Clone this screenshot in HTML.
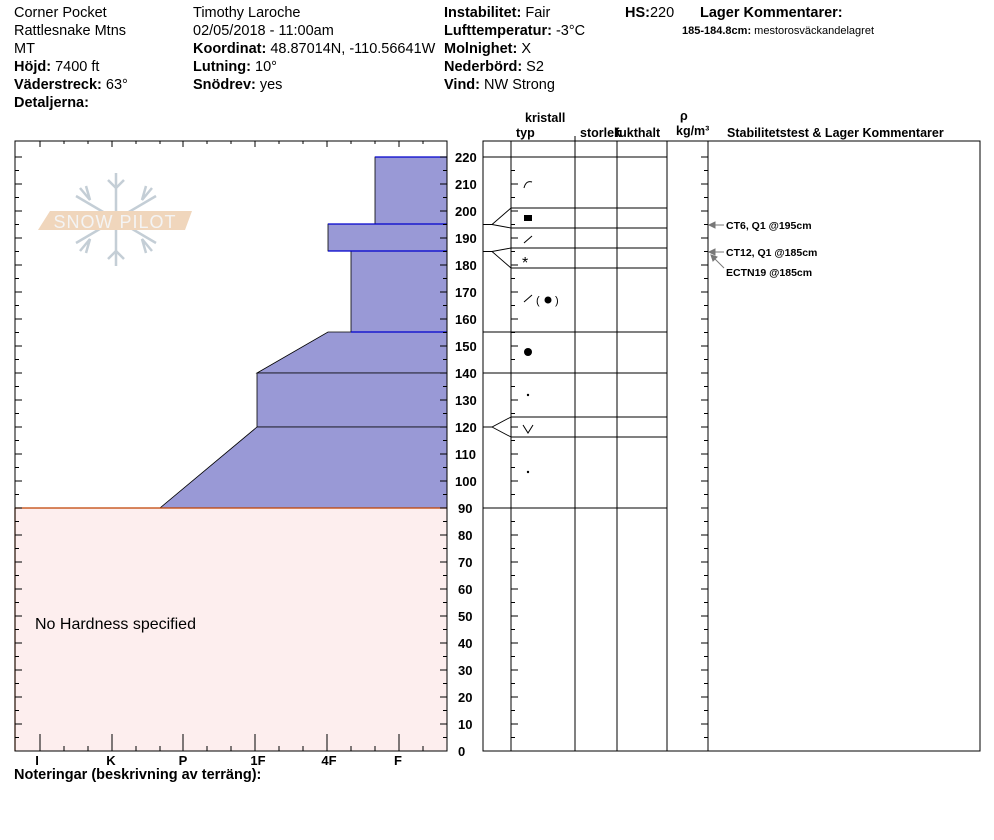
<!DOCTYPE html>
<html><head><meta charset="utf-8"><style>
html,body{margin:0;padding:0;background:#fff;}
svg{display:block;font-family:"Liberation Sans",Arial,sans-serif;}
.b{font-weight:bold}
</style></head><body>
<svg width="994" height="840" viewBox="0 0 994 840" xmlns="http://www.w3.org/2000/svg">
<defs>
<path id="tk" stroke="#000" stroke-width="1" d="M0,737.5h4M0,724h7M0,710.5h4M0,697h7M0,683.5h4M0,670h7M0,656.5h4M0,643h7M0,629.5h4M0,616h7M0,602.5h4M0,589h7M0,575.5h4M0,562h7M0,548.5h4M0,535h7M0,521.5h4M0,508h7M0,494.5h4M0,481h7M0,467.5h4M0,454h7M0,440.5h4M0,427h7M0,413.5h4M0,400h7M0,386.5h4M0,373h7M0,359.5h4M0,346h7M0,332.5h4M0,319h7M0,305.5h4M0,292h7M0,278.5h4M0,265h7M0,251.5h4M0,238h7M0,224.5h4M0,211h7M0,197.5h4M0,184h7M0,170.5h4M0,157h7"/>
</defs>
<g font-size="14.5" fill="#000">
<text x="14" y="17">Corner Pocket</text>
<text x="14" y="35">Rattlesnake Mtns</text>
<text x="14" y="53">MT</text>
<text x="14" y="71"><tspan class="b">Höjd:</tspan> 7400 ft</text>
<text x="14" y="89"><tspan class="b">Väderstreck:</tspan> 63°</text>
<text x="14" y="107" class="b">Detaljerna:</text>
<text x="193" y="17">Timothy  Laroche</text>
<text x="193" y="35">02/05/2018 - 11:00am</text>
<text x="193" y="53"><tspan class="b">Koordinat:</tspan> 48.87014N, -110.56641W</text>
<text x="193" y="71"><tspan class="b">Lutning:</tspan> 10°</text>
<text x="193" y="89"><tspan class="b">Snödrev:</tspan> yes</text>
<text x="444" y="17"><tspan class="b">Instabilitet:</tspan> Fair</text>
<text x="444" y="35"><tspan class="b">Lufttemperatur:</tspan> -3°C</text>
<text x="444" y="53"><tspan class="b">Molnighet:</tspan> X</text>
<text x="444" y="71"><tspan class="b">Nederbörd:</tspan> S2</text>
<text x="444" y="89"><tspan class="b">Vind:</tspan>  NW Strong</text>
<text x="625" y="17"><tspan class="b">HS:</tspan>220</text>
<text x="700" y="17" class="b">Lager Kommentarer:</text>
<text x="682" y="34" font-size="11"><tspan class="b">185-184.8cm:</tspan> mestorosväckandelagret</text>
<text x="14" y="779" class="b">Noteringar (beskrivning av terräng):</text>
</g>
<!-- left chart -->
<rect x="15" y="508" width="432" height="243" fill="#fdeeee"/>
<polygon points="375,157 447,157 447,224 375,224" fill="#9999d6" stroke="#000" stroke-width="0.8"/>
<polygon points="328,224 447,224 447,251 328,251" fill="#9999d6" stroke="#000" stroke-width="0.8"/>
<polygon points="351,251 447,251 447,332 351,332" fill="#9999d6" stroke="#000" stroke-width="0.8"/>
<polygon points="328,332 447,332 447,373 257,373" fill="#9999d6" stroke="#000" stroke-width="0.8"/>
<polygon points="257,373 447,373 447,427 257,427" fill="#9999d6" stroke="#000" stroke-width="0.8"/>
<polygon points="257,427 447,427 447,508 160,508" fill="#9999d6" stroke="#000" stroke-width="0.8"/>
<path d="M375,157H447M328,224H447M328,251H447M351,332H447" stroke="#0000cc" stroke-width="1.2"/>
<line x1="15" y1="508" x2="447" y2="508" stroke="#c04000" stroke-width="1.2"/>
<line x1="15" y1="508" x2="15" y2="751" stroke="#c04000" stroke-width="1.2"/>
<!-- logo -->
<g stroke="#c4ced6" stroke-width="2.5" fill="none">
<line x1="116" y1="173" x2="116" y2="266"/>
<line x1="76" y1="196" x2="156" y2="243"/>
<line x1="76" y1="243" x2="156" y2="196"/>
<path d="M108,180l8,8l8,-8M108,259l8,-8l8,8M80,188l10,12l-4,-14M152,188l-10,12l4,-14M80,251l10,-12l-4,14M152,251l-10,-12l4,14"/>
</g>
<polygon points="50,211 192,211 185,230 38,230" fill="#f0d6bc"/>
<text x="115" y="228" font-size="18" fill="#f4f4f4" text-anchor="middle" letter-spacing="1">SNOW PILOT</text>
<rect x="15" y="141" width="432" height="610" fill="none" stroke="#000" stroke-width="1"/>
<use href="#tk" transform="translate(15,0)"/>
<use href="#tk" transform="translate(447,0) scale(-1,1)"/>
<path d="M40,141v6M64,141v3M88,141v3M112,141v6M136,141v3M160,141v3M183,141v6M207,141v3M231,141v3M255,141v6M279,141v3M303,141v3M327,141v6M351,141v3M375,141v3M399,141v6M423,141v3" stroke="#000"/>
<path d="M40,751v-17M64,751v-5M88,751v-5M112,751v-17M136,751v-5M160,751v-5M183,751v-17M207,751v-5M231,751v-5M255,751v-17M279,751v-5M303,751v-5M327,751v-17M351,751v-5M375,751v-5M399,751v-17M423,751v-5" stroke="#000"/>
<g font-size="13" class="b" text-anchor="middle">
<text x="37" y="765">I</text><text x="111" y="765">K</text><text x="183" y="765">P</text><text x="258" y="765">1F</text><text x="329" y="765">4F</text><text x="398" y="765">F</text>
</g>
<text x="35" y="629" font-size="16">No Hardness specified</text>
<!-- y labels -->
<g font-size="13" class="b">
<text x="455" y="162">220</text><text x="455" y="189">210</text><text x="455" y="216">200</text><text x="455" y="243">190</text><text x="455" y="270">180</text><text x="455" y="297">170</text><text x="455" y="324">160</text><text x="455" y="351">150</text><text x="455" y="378">140</text><text x="455" y="405">130</text><text x="455" y="432">120</text><text x="455" y="459">110</text><text x="455" y="486">100</text><text x="458" y="513">90</text><text x="458" y="540">80</text><text x="458" y="567">70</text><text x="458" y="594">60</text><text x="458" y="621">50</text><text x="458" y="648">40</text><text x="458" y="675">30</text><text x="458" y="702">20</text><text x="458" y="729">10</text><text x="458" y="756">0</text>
</g>
<!-- right table -->
<g font-size="12.5" class="b">
<text x="525" y="122">kristall</text>
<text x="516" y="137">typ</text>
<text x="580" y="137">storlek</text>
<text x="615" y="137">fukthalt</text>
<text x="680" y="120">ρ</text>
<text x="676" y="135">kg/m³</text>
<text x="727" y="137">Stabilitetstest &amp; Lager Kommentarer</text>
</g>
<rect x="483" y="141" width="497" height="610" fill="none" stroke="#000"/>
<path d="M511,141V751M575,136V751M617,141V751M667,141V751M708,141V751" stroke="#000"/>
<path d="M483,157H667M511,208H667M511,228H667M511,248H667M511,268H667M483,332H667M483,373H667M511,417H667M511,437H667M483,508H667" stroke="#000"/>
<use href="#tk" transform="translate(511,0)"/>
<use href="#tk" transform="translate(708,0) scale(-1,1)"/>
<path d="M483,224.5H492L511,208M492,224.5L511,228M483,251.5H492L511,248M492,251.5L511,268M483,427H492L511,417M492,427L511,437" stroke="#000" fill="none" stroke-width="0.9"/>
<!-- symbols -->
<path d="M524,188q2,-8 8,-6" stroke="#000" fill="none"/>
<rect x="524" y="215" width="8" height="6" fill="#000"/>
<path d="M524,243L532,236M524,302L532,295M523,425L528,433L533,425" stroke="#000" fill="none"/>
<text x="522" y="268" font-size="16">*</text>
<text x="536" y="304" font-size="11">( </text><circle cx="548" cy="300" r="3.5"/><text x="555" y="304" font-size="11">)</text>
<circle cx="528" cy="352" r="4"/>
<circle cx="528" cy="395" r="1.2"/>
<circle cx="528" cy="472" r="1.2"/>
<!-- stability arrows -->
<g stroke="#777" fill="#777">
<path d="M710,225H724"/><polygon points="709,225 715,222 715,228"/>
<path d="M710,252H724"/><polygon points="709,252 715,249 715,255"/>
<path d="M712,256L724,268"/><polygon points="711,255 717,257 713,261"/>
</g>
<g font-size="10.5" class="b">
<text x="726" y="229">CT6, Q1 @195cm</text>
<text x="726" y="256">CT12, Q1 @185cm</text>
<text x="726" y="276">ECTN19 @185cm</text>
</g>
</svg>
</body></html>
